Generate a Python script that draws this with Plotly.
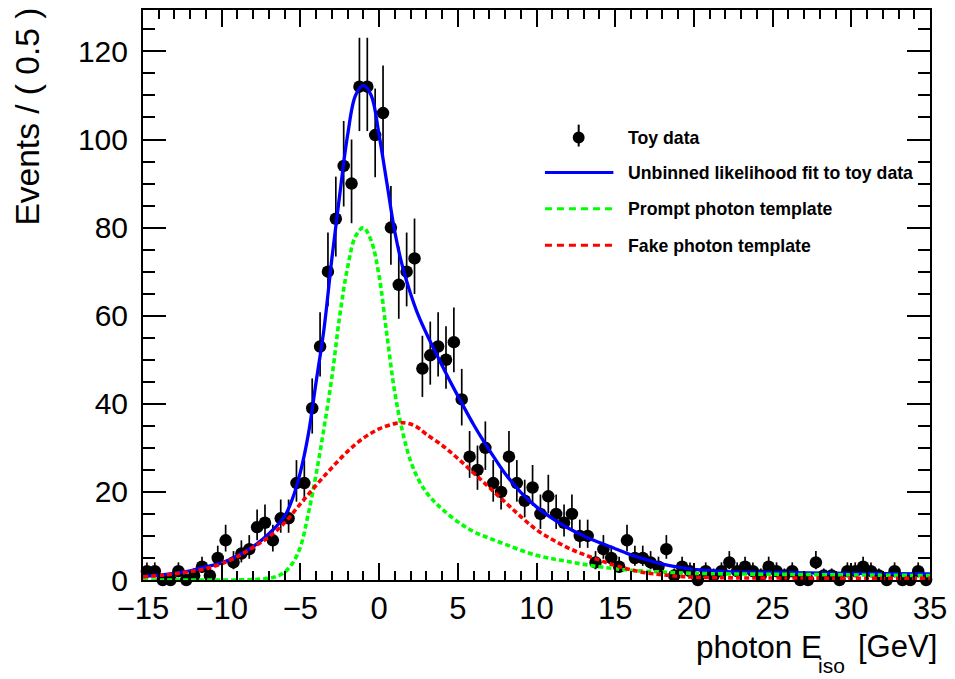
import numpy as np
import plotly.graph_objects as go

# ---------------- data ----------------
bin_centers = [-14.75 + 0.5 * i for i in range(100)]
counts = [
    2, 2, 0, 0, 2, 0, 1, 3, 1, 5,          # -14.75 .. -10.25
    9, 4, 6, 7, 12, 13, 9, 14, 14, 22,     # -9.75 .. -5.25
    22, 39, 53, 70, 82, 94, 90, 112, 112, 101,   # -4.75 .. -0.25
    106, 80, 67, 70, 73, 48, 51, 53, 50, 54,     # 0.25 .. 4.75
    41, 28, 25, 30, 22, 20, 28, 22, 18, 21,      # 5.25 .. 9.75
    15, 19, 15, 13, 15, 10, 10, 4, 7, 5,         # 10.25 .. 14.75
    3, 9, 5, 5, 4, 3, 7, 1, 3, 2,                # 15.25 .. 19.75
    0, 2, 1, 2, 4, 2, 3, 2, 1, 3,                # 20.25 .. 24.75
    2, 1, 2, 0, 0, 4, 1, 1, 0, 2,                # 25.25 .. 29.75
    2, 3, 2, 1, 0, 2, 0, 0, 2, 0,                # 30.25 .. 34.75
]

fit_x = [-15, -14, -13, -12, -11, -10, -9, -8, -7, -6, -5.5, -5, -4.5, -4, -3.5, -3, -2.5, -2,
         -1.5, -1, -0.5, 0, 0.5, 1, 1.5, 2, 2.5, 3, 3.5, 4, 4.5, 5, 5.5, 6, 6.5, 7, 8, 9, 10,
         11, 12, 13, 14, 15, 16, 17, 18, 19, 20, 21, 22, 25, 30, 35]
fit_y = [0.8, 1.1, 1.5, 2.1, 3.0, 3.9, 5.5, 7.6, 10.5, 14.5, 18.5, 24.5, 33, 45, 57, 73, 87.5, 101,
         110, 112.3, 110, 101, 90, 79, 71, 65, 60, 56, 52.3, 48.7, 45.2, 41.8, 38.5, 35.3, 32.3,
         29.5, 24.2, 19.9, 16.6, 14, 11.8, 10, 8.5, 7.1, 5.7, 4.6, 3.6, 2.9, 2.4, 2.1, 1.9, 1.7,
         1.5, 1.4]

prompt_x = [-15, -10, -8, -7, -6.5, -6, -5.5, -5, -4.5, -4, -3.5, -3, -2.5, -2, -1.5, -1, -0.5,
            0, 0.5, 1, 1.5, 2, 2.5, 3, 3.5, 4, 5, 6, 7.5, 10, 12, 14, 16, 18, 20, 25, 30, 35]
prompt_y = [0, 0, 0.1, 0.4, 0.8, 1.8, 3.8, 7.5, 15, 24, 34.5, 46, 60, 71, 78, 80, 77,
            69, 55.5, 42.5, 33.5, 27, 22.8, 19.9, 17.8, 16.1, 13.2, 11, 8.8, 5.6, 4.2, 3, 2.2,
            1.8, 1.5, 1.3, 1.15, 1.0]

fake_x = [-15, -14, -13, -12, -11, -10, -9, -8, -7, -6, -5, -4, -3, -2, -1, 0, 1, 1.5, 2, 2.5,
          3, 4, 5, 6, 7, 8, 9, 10, 11, 12, 13, 14, 15, 16, 17, 18, 19, 20, 22, 26, 30, 35]
fake_y = [0.7, 1.0, 1.4, 1.9, 2.6, 3.7, 5.3, 7.4, 9.8, 13, 17.3, 21.5, 25.5, 29.2, 32.2, 34.3,
          35.5, 35.7, 35.4, 34.5, 33.1, 30.6, 27.6, 24.3, 21, 17.7, 14.4, 11.4, 9.2, 7.3, 5.8,
          4.5, 3.3, 2.3, 1.6, 1.2, 0.85, 0.65, 0.5, 0.45, 0.4, 0.4]

legend_labels = ["Toy data", "Unbinned likelihood fit to toy data",
                 "Prompt photon template", "Fake photon template"]

# Poisson-like asymmetric errors
n = np.array(counts, dtype=float)
err_up = np.where(n > 0, np.sqrt(n + 0.25) + 0.5, 1.15)
err_dn = np.where(n > 0, np.sqrt(n + 0.25) - 0.5, 0.0)

BLUE = "#0000ff"
GREEN = "#00ff00"
RED = "#ff0000"
FONT = "Liberation Sans"

fig = go.Figure()
fig.add_trace(go.Scatter(
    x=bin_centers, y=counts, mode="markers",
    marker=dict(color="black", size=12.5),
    error_y=dict(type="data", symmetric=False, array=err_up, arrayminus=err_dn,
                 width=0, thickness=1.7, color="black"),
    cliponaxis=False, showlegend=False))
fig.add_trace(go.Scatter(x=fit_x, y=fit_y, mode="lines",
                         line=dict(color=BLUE, width=3.3, shape="spline", smoothing=1.0),
                         showlegend=False))
fig.add_trace(go.Scatter(x=prompt_x, y=prompt_y, mode="lines",
                         line=dict(color=GREEN, width=3.6, shape="spline", smoothing=1.0,
                                   dash="5px,3px"),
                         showlegend=False))
fig.add_trace(go.Scatter(x=fake_x, y=fake_y, mode="lines",
                         line=dict(color=RED, width=3.6, shape="spline", smoothing=1.0,
                                   dash="5px,3px"),
                         showlegend=False))

L, R, T, B = 143, 936, 8, 580
W, H = R - L, B - T


def px(p):
    return (p - L) / W


def py(p):
    return (B - p) / H


shapes = []
# legend symbols
shapes.append(dict(type="line", xref="paper", yref="paper", x0=px(582), x1=px(582),
                   y0=py(123), y1=py(145), line=dict(color="black", width=2)))
shapes.append(dict(type="circle", xref="paper", yref="paper", x0=px(576), x1=px(588),
                   y0=py(142), y1=py(130), fillcolor="black", line=dict(color="black", width=0)))
shapes.append(dict(type="line", xref="paper", yref="paper", x0=px(548), x1=px(617),
                   y0=py(171), y1=py(171), line=dict(color=BLUE, width=3)))
shapes.append(dict(type="line", xref="paper", yref="paper", x0=px(548), x1=px(617),
                   y0=py(207.5), y1=py(207.5), line=dict(color=GREEN, width=3, dash="7px,5px")))
shapes.append(dict(type="line", xref="paper", yref="paper", x0=px(548), x1=px(617),
                   y0=py(244), y1=py(244), line=dict(color=RED, width=3, dash="7px,5px")))

annotations = []
for lab, yc in zip(legend_labels, [136, 171.5, 208, 244.5]):
    annotations.append(dict(text="<b>" + lab + "</b>", xref="paper", yref="paper",
                            x=px(630), y=py(yc), xanchor="left", yanchor="middle",
                            showarrow=False, font=dict(family=FONT, size=17.7, color="black")))

# y axis title
annotations.append(dict(text="Events / ( 0.5 )", xref="paper", yref="paper",
                        x=px(27), y=py(115), xanchor="center", yanchor="middle",
                        textangle=-90, showarrow=False,
                        font=dict(family=FONT, size=33.5, color="black")))
# x axis title
annotations.append(dict(text="photon E", xref="paper", yref="paper",
                        x=px(829), y=py(647), xanchor="right", yanchor="middle",
                        showarrow=False, font=dict(family=FONT, size=31.5, color="black")))
annotations.append(dict(text="iso", xref="paper", yref="paper",
                        x=px(821), y=py(679), xanchor="left", yanchor="bottom",
                        showarrow=False, font=dict(family=FONT, size=21, color="black")))
annotations.append(dict(text="[GeV]", xref="paper", yref="paper",
                        x=px(945), y=py(647), xanchor="right", yanchor="middle",
                        showarrow=False, font=dict(family=FONT, size=31, color="black")))

fig.update_layout(
    width=955, height=679,
    margin=dict(l=L, r=955 - R, t=T, b=679 - B, pad=0),
    paper_bgcolor="white", plot_bgcolor="white",
    shapes=shapes, annotations=annotations,
    font=dict(family=FONT, color="black"),
)
fig.update_xaxes(
    range=[-15, 35], tick0=0, dtick=5, ticks="inside", ticklen=17, tickwidth=1.5,
    tickcolor="black", showline=True, linewidth=2, linecolor="black", mirror="allticks",
    showgrid=False, zeroline=False, tickfont=dict(family=FONT, size=31, color="black"),
    minor=dict(dtick=1, ticks="inside", ticklen=9, tickwidth=1.5, tickcolor="black",
               showgrid=False),
)
fig.update_yaxes(
    range=[0, 129.4], tick0=0, dtick=20, ticks="inside", ticklen=23, tickwidth=1.5,
    tickcolor="black", showline=True, linewidth=2, linecolor="black", mirror="allticks",
    showgrid=False, zeroline=False, tickfont=dict(family=FONT, size=30, color="black"),
    ticklabelstandoff=7,
    minor=dict(dtick=5, ticks="inside", ticklen=12, tickwidth=1.5, tickcolor="black",
               showgrid=False),
)

fig.write_html("out.html")
